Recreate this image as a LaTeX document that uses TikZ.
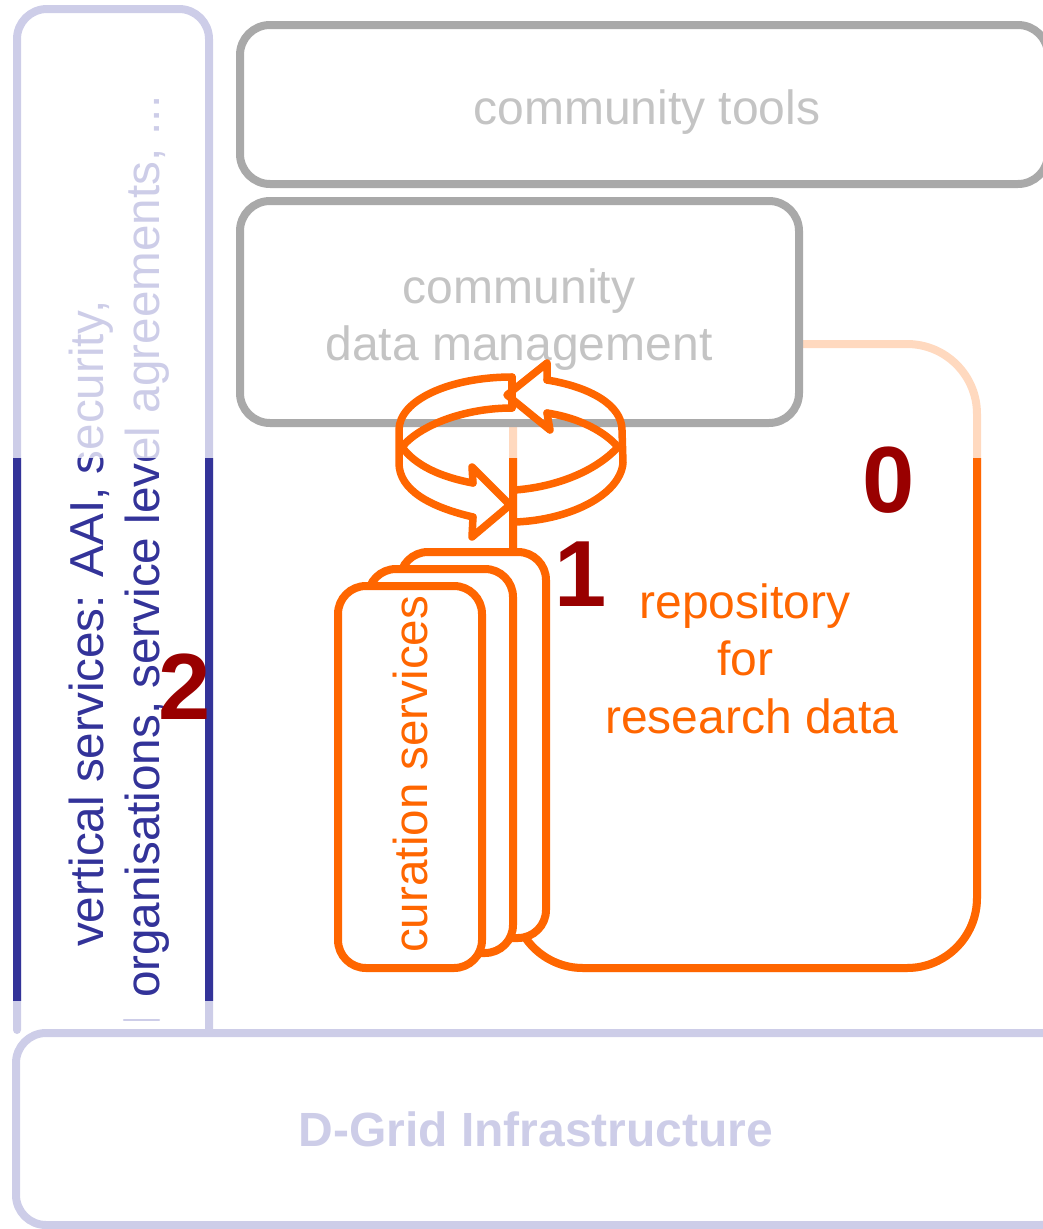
\documentclass[tikz,border=0pt]{standalone}
\usepackage{fontspec}
\setmainfont{Liberation Sans}
\definecolor{curation}{HTML}{FF6600}
\definecolor{paleorange}{HTML}{FFD9BF}
\definecolor{vertical}{HTML}{333399}
\definecolor{paleblue}{HTML}{CDCDE8}
\definecolor{palegrey}{HTML}{A9A9A9}
\definecolor{greytext}{HTML}{C4C4C4}
\definecolor{number}{HTML}{990000}
\tikzset{
  box/.style={line width=8pt, rounded corners=30pt},
  label/.style={font=\fontsize{48}{57}\selectfont, anchor=base, inner sep=0pt},
  sidelabel/.style={font=\fontsize{47.6}{57}\selectfont, anchor=base west, rotate=90, inner sep=0pt},
  biglabel/.style={font=\fontsize{94}{96}\selectfont\bfseries, text=number, inner sep=0pt},
  ring/.style={draw=curation, line width=7.5pt},
  stack/.style={draw=curation, fill=white, line width=8pt, rounded corners=28pt},
}
\newcommand{\verticalbox}[1]{\draw[box, draw=#1] (17,1030) -- (17,9) -- (209,9) -- (209,1030);}
\newcommand{\verticaltext}[1]{
  \node[sidelabel, text=#1] (vlinea#1) at (103,947) {vertical services: AAI, security,};
  \node[sidelabel, text=#1] (vlineb#1) at (159,998) {organisations, service level agreements, ...};
}
\newcommand{\repositorybox}[1]{\draw[line width=8pt, rounded corners=70pt, draw=#1] (513,344) rectangle (977,968);}
\begin{document}
\begin{tikzpicture}[line cap=round, line join=round, x=1pt, y=-1pt]
  \path[use as bounding box] (0,0) rectangle (1043,1229);
  \clip (0,0) rectangle (1043,1229);
  % repository, pale above the band
  \repositorybox{paleorange}
  \begin{scope}
    \clip (0,458) rectangle (1043,1229);
    \repositorybox{curation}
  \end{scope}
  % vertical services
  \verticalbox{paleblue}
  \verticaltext{paleblue}
  \begin{scope}
    \clip (0,458) rectangle (1043,1000);
    \verticalbox{vertical}
    \verticaltext{vertical}
  \end{scope}
  \draw[paleblue, line width=2.5pt] (124,1020) -- (159,1020);
  % upper boxes
  \draw[box, draw=palegrey, fill=white] (240,25) rectangle (1048,184);
  \draw[box, draw=palegrey, fill=white] (240,201) rectangle (799,423);
  \draw[box, draw=paleblue] (16,1033) rectangle (1070,1225);
  \foreach \name/\txt/\xpos/\ypos/\col in {tools/community tools/647/124/greytext, comm/community/519/303/greytext, data/data management/519/360/greytext, repo/repository/745/618/curation, for/for/745/675/curation, research/research data/752/733/curation}
    \node[label, text=\col] (\name) at (\xpos,\ypos) {\txt};
  \node[label, font=\fontsize{48}{57}\selectfont\bfseries, text=paleblue] (dgrid) at (536,1146) {D-Grid Infrastructure};
  % ring with the two arrows
  \draw[ring] (512,377) -- (512,408);
  \draw[ring] (547,380) -- (547,363) -- (507,395) -- (550,430) -- (547,413);
  \draw[ring] (473,483) -- (472,467) -- (510,505) -- (472,537) -- (473,517);
  \draw[ring] (473,517) .. controls (430,507) and (399,490) .. (399,463) -- (399,430) .. controls (399,400) and (450,377) .. (512,377);
  \draw[ring] (473,483) .. controls (440,477) and (415,465) .. (402,447) .. controls (420,425) and (465,408) .. (512,408);
  \draw[ring] (547,380) .. controls (590,387) and (622,405) .. (622,430) -- (623,463) .. controls (620,495) and (570,520) .. (515,522);
  \draw[ring] (547,413) .. controls (580,418) and (605,432) .. (618,447) .. controls (595,472) and (555,487) .. (515,490);
  % curation services
  \draw[stack] (400,552) rectangle (546,938);
  \draw[stack] (368,569) rectangle (513,953);
  \draw[stack] (338,586) rectangle (482,968);
  \node[sidelabel, text=curation] (curationtext) at (427,953) {curation services};
  % numbers
  \foreach \name/\txt/\xpos/\ypos in {zero/0/889/480, one/1/581/574, two/2/185/687, cut/0/-23/265}
    \node[biglabel] (\name) at (\xpos,\ypos) {\txt};
\end{tikzpicture}
\end{document}
